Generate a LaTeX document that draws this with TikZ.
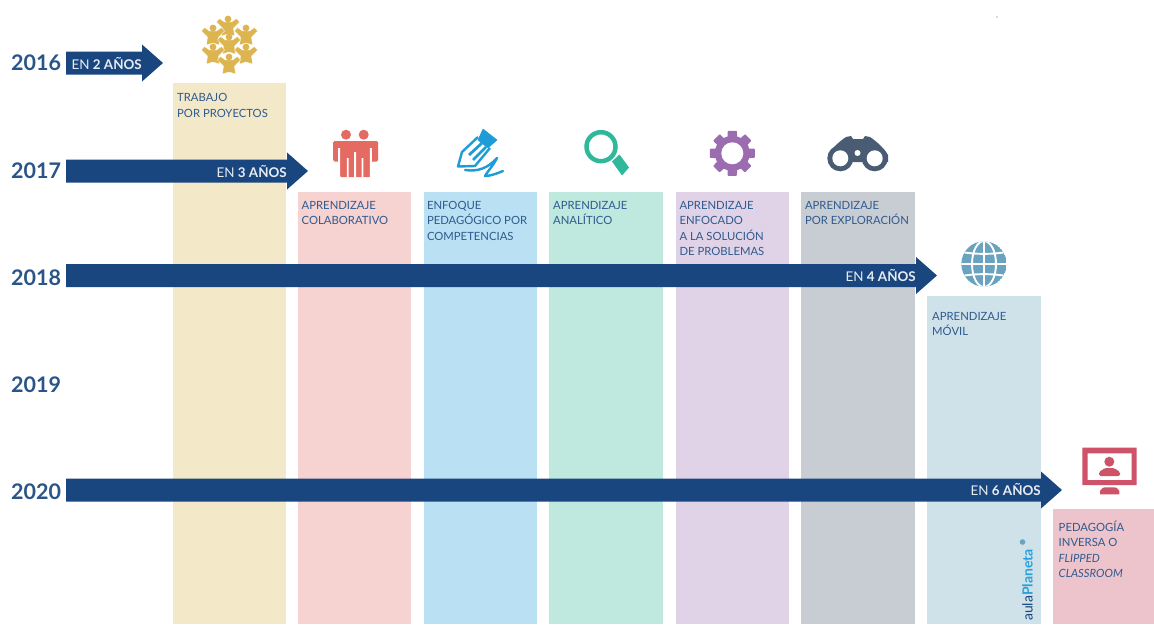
\documentclass[tikz,border=0pt]{standalone}
\usepackage{fontspec}
\setmainfont{Lato}
\definecolor{navy}{HTML}{1A4680}
\definecolor{txtblue}{HTML}{2F5A8E}
\definecolor{yearblue}{HTML}{2A5588}
\definecolor{colA}{HTML}{F3E8C8}
\definecolor{colB}{HTML}{F6D2D0}
\definecolor{colC}{HTML}{B9E0F3}
\definecolor{colD}{HTML}{BFE8DF}
\definecolor{colE}{HTML}{E0D3E7}
\definecolor{colF}{HTML}{C8CDD4}
\definecolor{colG}{HTML}{CFE1E9}
\definecolor{colH}{HTML}{EDC4CC}
\definecolor{gold}{HTML}{DDB550}
\definecolor{coral}{HTML}{E56A62}
\definecolor{penblue}{HTML}{1E9CD8}
\definecolor{teal}{HTML}{2FB89A}
\definecolor{gearp}{HTML}{9B6DB0}
\definecolor{binoc}{HTML}{4A5C74}
\definecolor{globeb}{HTML}{6AA3C0}
\definecolor{screenr}{HTML}{CF5368}
\definecolor{brandb}{HTML}{2AA0DC}
\tikzset{
  x=1pt,y=-1pt,
  column/.style={draw=none},
  bluearrow/.style={fill=navy,draw=none},
  yearlabel/.style={font=\fontsize{21.5}{24}\selectfont\bfseries,text=yearblue,anchor=west,inner sep=0},
  spanlabel/.style={font=\fontsize{13.4}{15}\selectfont,text=white!90!navy,inner sep=0},
  collabel/.style={font=\fontsize{11.3}{15.5}\selectfont,text=txtblue,anchor=north west,align=left,inner sep=0},
  teamfig/.pic={
    \filldraw[fill=gold,draw=white,line width=.35,line join=round] (-3.5,3) -- (-8.5,-.5) -- (-11.5,3) -- (-5.5,9) -- (-6.5,17) -- (0,15) -- (6.5,17) -- (5.5,9) -- (11.5,3) -- (8.5,-.5) -- (3.5,3) -- cycle;
    \fill[gold] (0,0) circle (3.4);
  }
}
\newcommand{\longarrow}[4]{% x0, headx, tip, ymid
  \fill[bluearrow] (#1,#4-11.5) -- (#2,#4-11.5) -- (#2,#4-18.5) -- (#3,#4) -- (#2,#4+18.5) -- (#2,#4+11.5) -- (#1,#4+11.5) -- cycle;}
\begin{document}
\begin{tikzpicture}
\useasboundingbox (0,0) rectangle (1154,624);
\fill[white] (0,0) rectangle (1154,624);
% columns
\fill[column,colA] (173,83) rectangle (286,624);
\fill[column,colB] (298,191.5) rectangle (411,624);
\fill[column,colC] (423.5,191.5) rectangle (537,624);
\fill[column,colD] (549,191.5) rectangle (662.5,624);
\fill[column,colE] (675.5,191.5) rectangle (788.5,624);
\fill[column,colF] (801,191.5) rectangle (914.5,624);
\fill[column,colG] (927,296) rectangle (1040.5,624);
\fill[column,colH] (1053,509) rectangle (1154,624);
% arrows
\longarrow{66}{142}{163}{63}
\longarrow{66}{287}{308}{171}
\longarrow{66}{916}{937}{275.5}
\longarrow{66}{1041}{1062}{490}
% years
\node[yearlabel] (y16) at (11,63) {2016};
\node[yearlabel] (y17) at (11,170.5) {2017};
\node[yearlabel] (y18) at (11,277.5) {2018};
\node[yearlabel] (y19) at (11,384.5) {2019};
\node[yearlabel] (y20) at (11,491.5) {2020};
% span labels
\node[spanlabel,anchor=east] (s2) at (142,63.5) {EN \textbf{2 AÑOS}};
\node[spanlabel,anchor=east] (s3) at (287,171.5) {EN \textbf{3 AÑOS}};
\node[spanlabel,anchor=east] (s4) at (916,276) {EN \textbf{4 AÑOS}};
\node[spanlabel,anchor=east] (s6) at (1041,490) {EN \textbf{6 AÑOS}};
% column labels
\node[collabel] (c1) at (177,93.5) {TRABAJO\\POR PROYECTOS};
\node[collabel] (c2) at (301.5,201) {APRENDIZAJE\\COLABORATIVO};
\node[collabel] (c3) at (426.8,201) {ENFOQUE\\PEDAGÓGICO POR\\COMPETENCIAS};
\node[collabel] (c4) at (553,201) {APRENDIZAJE\\ANALÍTICO};
\node[collabel] (c5) at (679.3,201) {APRENDIZAJE\\ENFOCADO\\A LA SOLUCIÓN\\DE PROBLEMAS};
\node[collabel] (c6) at (804.8,201) {APRENDIZAJE\\POR EXPLORACIÓN};
\node[collabel] (c7) at (932,312) {APRENDIZAJE\\MÓVIL};
\node[collabel] (c8) at (1058.5,520.5) {PEDAGOGÍA\\INVERSA O\\\textit{FLIPPED}\\\textit{CLASSROOM}};
% team icon
\foreach \px/\py in {228/19,213/28,246/28,229/37,213/47,246/47,229/57} \pic at (\px,\py) {teamfig};
% two people icon
\fill[coral] (346,134.7) circle (5) (363.7,134.7) circle (5);
\fill[coral,rounded corners=1.5] (333,161.5) -- (333,141) -- (378,141) -- (378,161.5) -- (371,161.5) -- (371,177) -- (339.5,177) -- (339.5,161.5) -- cycle;
\fill[white] (338,148) rectangle (340,178) (369.8,148) rectangle (371.8,178)
  (346.8,158) rectangle (348.6,178) (354.2,152) rectangle (356,178) (361.6,158) rectangle (363.4,178);
% pencil icon
\fill[penblue,line join=round,draw=penblue,line width=.5] (478,140) -- (483,129) -- (497,140) -- (488,148) -- cycle;
\draw[penblue,line width=2.4,line join=round] (478,137) -- (462,152) -- (458,166.5) -- (475,166) -- (490,148);
\draw[penblue,line width=2.8] (469,155) -- (482,143) (473,160) -- (486,147);
\draw[penblue,line width=2.4,line cap=round,line join=round] (465,170) .. controls (478,172) and (488,168) .. (497,158) .. controls (493,166) and (487,172) .. (485,176) .. controls (491,176) and (498,173) .. (503,171);
% magnifier icon
\draw[teal,line width=4.5] (601,146.7) circle (14.5);
\fill[teal] (612,161.5) -- (619.5,154.5) -- (629,167.5) -- (622,175.5) -- cycle;
% gear icon
\foreach \ang in {0,45,...,315} \fill[gearp,rotate around={\ang:(732.3,153.3)},rounded corners=.8] (727,153.3) -- (727.7,130.8) -- (736.9,130.8) -- (737.6,153.3) -- cycle;
\fill[gearp] (732.3,153.3) circle (17.5);
\fill[white] (732.3,153.3) circle (11);
% binoculars icon
\fill[binoc] (828,155) .. controls (833,147) and (840,141) .. (846,137) -- (851,136) -- (853,139) -- (863,139) -- (865,136) -- (870,137) .. controls (876,141) and (883,147) .. (888,155) -- (888,162) -- (828,162) -- cycle;
\fill[binoc] (840.3,158.3) circle (13) (874.7,158.3) circle (13) (846,145) rectangle (870,161);
\fill[white] (840.3,158.3) circle (8) (874.7,158.3) circle (8) (857.5,153) circle (3);
% globe icon
\begin{scope}
\clip (984,264) circle (22.7);
\fill[globeb] (984,264) circle (22.7);
\draw[white,line width=1.9] (961,264) -- (1007,264) (984,241) -- (984,287);
\draw[white,line width=1.9] (984,264) ellipse (12 and 23);
\draw[white,line width=1.9] (962,252) .. controls (975,254.5) and (993,254.5) .. (1006,252);
\draw[white,line width=1.9] (962,276) .. controls (975,273.5) and (993,273.5) .. (1006,276);
\end{scope}
% monitor icon
\fill[screenr,even odd rule] (1082.3,447.7) rectangle (1136.7,485) (1087.7,453.3) rectangle (1131.7,480);
\fill[screenr] (1109.3,461.7) circle (5);
\fill[screenr,rounded corners=1.5] (1099,476) -- (1099,472) -- (1105,468) -- (1114,468) -- (1120,472) -- (1120,476) -- cycle;
\fill[screenr] (1100,494.3) -- (1100,491) .. controls (1101,488) and (1104,487.3) .. (1105,487.3) -- (1114,487.3) .. controls (1116,487.3) and (1118,488) .. (1119.3,491) -- (1119.3,494.3) -- cycle;
% brand
\node[font=\fontsize{14}{15}\selectfont,rotate=90,anchor=west,inner sep=0] (brand) at (1027.5,621) {\textcolor{navy}{aula}\textcolor{brandb}{\textbf{Planeta}}};
\fill[globeb] (1022.5,542) circle (2.8);
\fill[black!60] (997,17) circle (.6);
\end{tikzpicture}
\end{document}
